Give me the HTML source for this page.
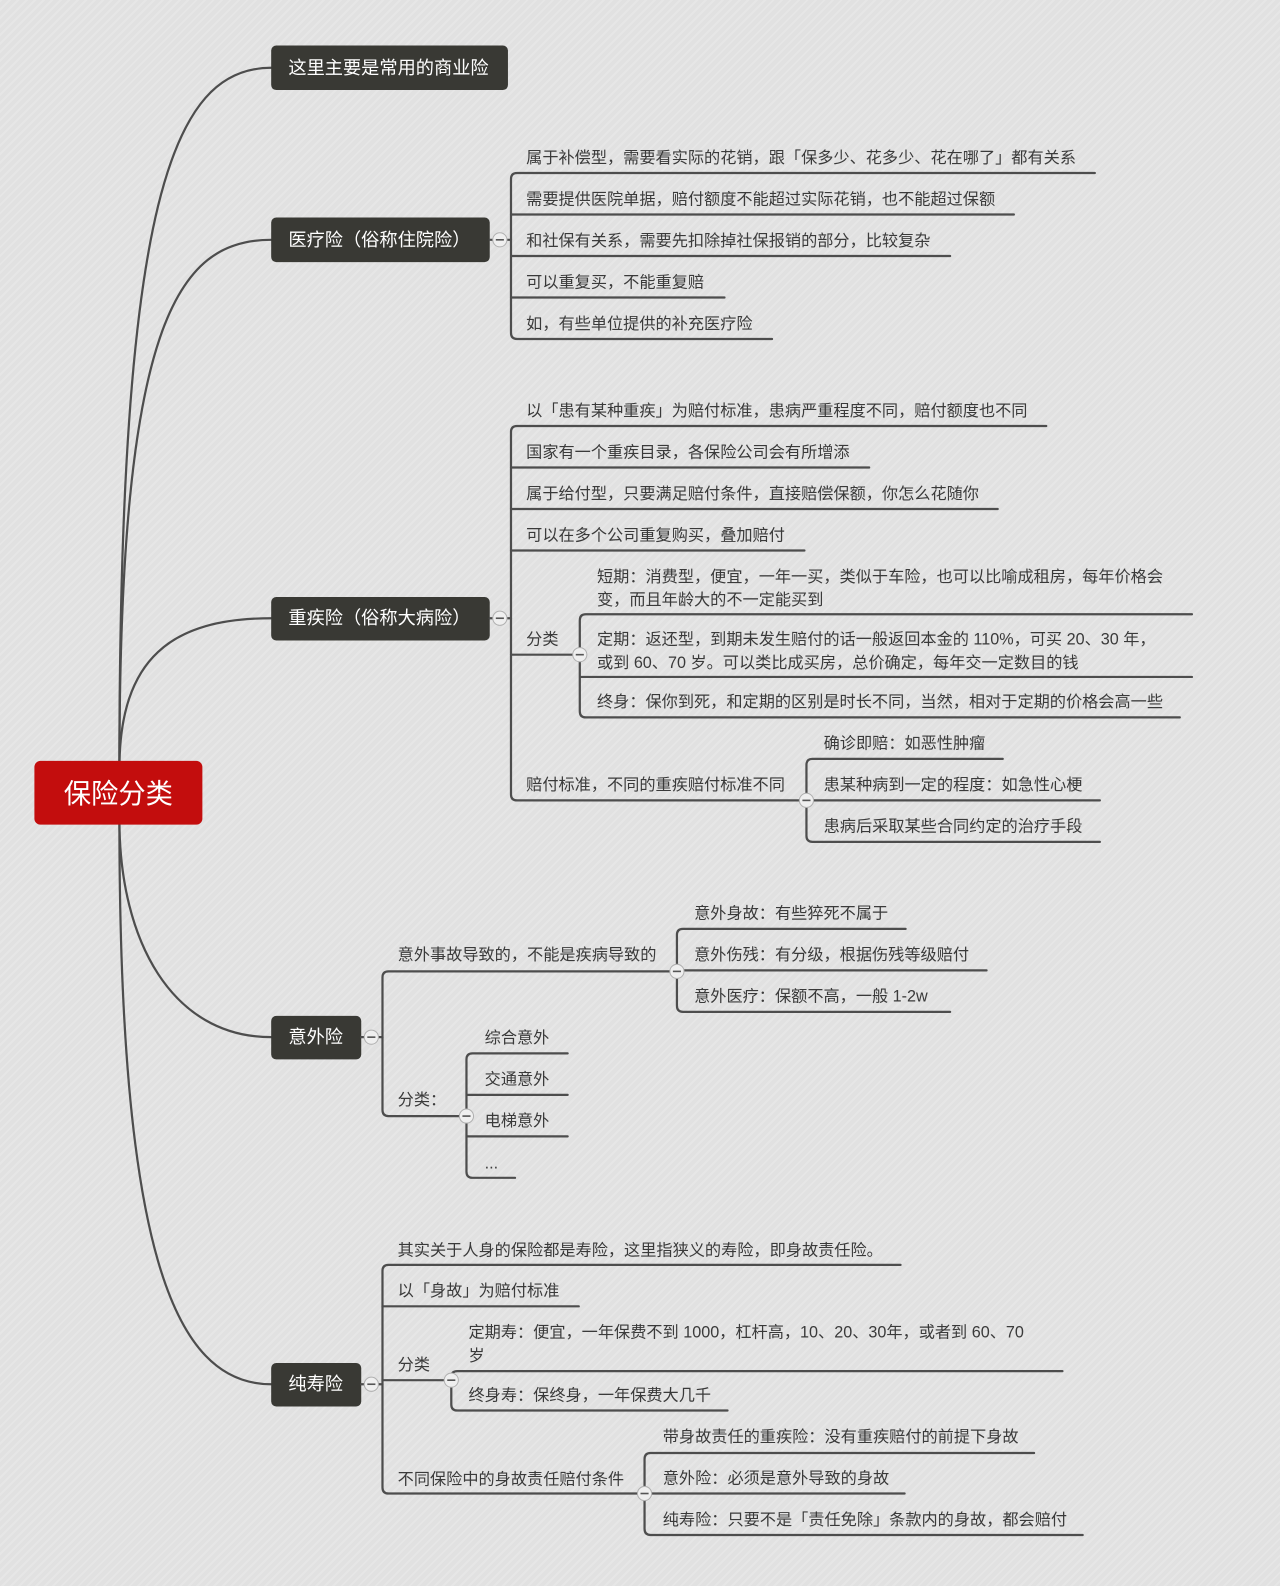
<!DOCTYPE html>
<html><head><meta charset="utf-8"><style>
html,body{margin:0;padding:0}
body{width:1280px;height:1586px;background:#e1e1e1;background-image:repeating-linear-gradient(135deg,rgba(255,255,255,0.18) 0 2px,rgba(0,0,0,0) 2px 6px);overflow:hidden}
svg{position:absolute;left:0;top:0}
text{font-family:"Liberation Sans","Noto Sans CJK SC",sans-serif;dominant-baseline:central}
.t{font-size:16px;fill:#3a3a3a}
.m{font-size:18px;fill:#fff}
.l{stroke:#4d4d4d;stroke-width:2.2;fill:none;stroke-linecap:round}
.c{fill:#efefef;stroke:#b0b0b0;stroke-width:1}
.d{stroke:#555;stroke-width:1.6}
</style></head><body>
<svg width="1280" height="1586" viewBox="0 0 1265 1567.4" preserveAspectRatio="none">
<g class="l">
<path d="M118,760 C118,200 170,67 268,67"/>
<path d="M118,760 C118,320 175,237 268,237"/>
<path d="M118,760 C118,650 170,611 268,611"/>
<path d="M118,810 C118,930 170,1025 268,1025"/>
<path d="M118,810 C118,1230 170,1368 268,1368"/>
</g>
<rect x="34" y="752" width="166" height="63" rx="6" fill="#c30d0d"/>
<text x="117" y="784" text-anchor="middle" style="font-size:27px;fill:#fff">保险分类</text>

<g fill="#393934">
<rect x="268" y="45" width="234" height="44" rx="5"/>
<rect x="268" y="215" width="216" height="44" rx="5"/>
<rect x="268" y="590" width="216" height="43" rx="5"/>
<rect x="268" y="1004" width="89" height="43" rx="5"/>
<rect x="268" y="1347" width="89" height="43" rx="5"/>
</g>
<text class="m" x="285" y="67">这里主要是常用的商业险</text>
<text class="m" x="285" y="237">医疗险（俗称住院险）</text>
<text class="m" x="285" y="611">重疾险（俗称大病险）</text>
<text class="m" x="285" y="1025">意外险</text>
<text class="m" x="285" y="1368">纯寿险</text>

<g class="l">
<path d="M484,237 H505"/>
<path d="M1082,171 H511 Q505,171 505,177 V329 Q505,335 511,335 H763"/>
<path d="M1002,212 H505 M939,253 H505 M716,294 H505"/>
<path d="M484,611 H505"/>
<path d="M1034,421 H511 Q505,421 505,427 V785 Q505,791 511,791 H797"/>
<path d="M859,462 H505 M986,503 H505 M795,544 H505 M573,647 H505"/>
<path d="M1178,607 H579 Q573,607 573,613 V703 Q573,709 579,709 H1166 M1178,669 H573"/>
<path d="M991,750 H803 Q797,750 797,756 V826 Q797,832 803,832 H1087 M1087,791 H797"/>
<path d="M357,1025 H378"/>
<path d="M669,960 H384 Q378,960 378,966 V1097 Q378,1103 384,1103 H461"/>
<path d="M895,918 H675 Q669,918 669,924 V994 Q669,1000 675,1000 H939 M975,959 H669"/>
<path d="M561,1041 H467 Q461,1041 461,1047 V1158 Q461,1164 467,1164 H509 M561,1082 H461 M561,1123 H461"/>
<path d="M357,1368 H378"/>
<path d="M890,1250 H384 Q378,1250 378,1256 V1470 Q378,1476 384,1476 H637"/>
<path d="M572,1291 H378 M446,1364 H378"/>
<path d="M1050,1355 H452 Q446,1355 446,1361 V1388 Q446,1394 452,1394 H719"/>
<path d="M1022,1436 H643 Q637,1436 637,1442 V1511 Q637,1517 643,1517 H1070 M894,1476 H637"/>
</g>

<g>
<circle class="c" cx="494" cy="237" r="7"/><line class="d" x1="490" y1="237" x2="498" y2="237"/>
<circle class="c" cx="494" cy="611" r="7"/><line class="d" x1="490" y1="611" x2="498" y2="611"/>
<circle class="c" cx="573" cy="647" r="7"/><line class="d" x1="569" y1="647" x2="577" y2="647"/>
<circle class="c" cx="797" cy="791" r="7"/><line class="d" x1="793" y1="791" x2="801" y2="791"/>
<circle class="c" cx="367" cy="1025" r="7"/><line class="d" x1="363" y1="1025" x2="371" y2="1025"/>
<circle class="c" cx="669" cy="960" r="7"/><line class="d" x1="665" y1="960" x2="673" y2="960"/>
<circle class="c" cx="461" cy="1103" r="7"/><line class="d" x1="457" y1="1103" x2="465" y2="1103"/>
<circle class="c" cx="367" cy="1368" r="7"/><line class="d" x1="363" y1="1368" x2="371" y2="1368"/>
<circle class="c" cx="446" cy="1364" r="7"/><line class="d" x1="442" y1="1364" x2="450" y2="1364"/>
<circle class="c" cx="637" cy="1476" r="7"/><line class="d" x1="633" y1="1476" x2="641" y2="1476"/>
</g>

<g class="t">
<text x="520" y="156">属于补偿型，需要看实际的花销，跟「保多少、花多少、花在哪了」都有关系</text>
<text x="520" y="197">需要提供医院单据，赔付额度不能超过实际花销，也不能超过保额</text>
<text x="520" y="238">和社保有关系，需要先扣除掉社保报销的部分，比较复杂</text>
<text x="520" y="279">可以重复买，不能重复赔</text>
<text x="520" y="320">如，有些单位提供的补充医疗险</text>

<text x="520" y="406">以「患有某种重疾」为赔付标准，患病严重程度不同，赔付额度也不同</text>
<text x="520" y="447">国家有一个重疾目录，各保险公司会有所增添</text>
<text x="520" y="488">属于给付型，只要满足赔付条件，直接赔偿保额，你怎么花随你</text>
<text x="520" y="529">可以在多个公司重复购买，叠加赔付</text>
<text x="520" y="632">分类</text>
<text x="520" y="776">赔付标准，不同的重疾赔付标准不同</text>

<text x="590" y="570">短期：消费型，便宜，一年一买，类似于车险，也可以比喻成租房，每年价格会</text>
<text x="590" y="593">变，而且年龄大的不一定能买到</text>
<text x="590" y="632">定期：返还型，到期未发生赔付的话一般返回本金的 110%，可买 20、30 年，</text>
<text x="590" y="655">或到 60、70 岁。可以类比成买房，总价确定，每年交一定数目的钱</text>
<text x="590" y="694">终身：保你到死，和定期的区别是时长不同，当然，相对于定期的价格会高一些</text>

<text x="814" y="735">确诊即赔：如恶性肿瘤</text>
<text x="814" y="776">患某种病到一定的程度：如急性心梗</text>
<text x="814" y="817">患病后采取某些合同约定的治疗手段</text>

<text x="393" y="944">意外事故导致的，不能是疾病导致的</text>
<text x="393" y="1087">分类：</text>
<text x="686" y="903">意外身故：有些猝死不属于</text>
<text x="686" y="944">意外伤残：有分级，根据伤残等级赔付</text>
<text x="686" y="985">意外医疗：保额不高，一般 1-2w</text>
<text x="479" y="1026">综合意外</text>
<text x="479" y="1067">交通意外</text>
<text x="479" y="1108">电梯意外</text>
<text x="479" y="1150">...</text>

<text x="393" y="1236">其实关于人身的保险都是寿险，这里指狭义的寿险，即身故责任险。</text>
<text x="393" y="1276">以「身故」为赔付标准</text>
<text x="393" y="1349">分类</text>
<text x="393" y="1462">不同保险中的身故责任赔付条件</text>
<text x="463" y="1317">定期寿：便宜，一年保费不到 1000，杠杆高，10、20、30年，或者到 60、70</text>
<text x="463" y="1340">岁</text>
<text x="463" y="1379">终身寿：保终身，一年保费大几千</text>
<text x="655" y="1420">带身故责任的重疾险：没有重疾赔付的前提下身故</text>
<text x="655" y="1461">意外险：必须是意外导致的身故</text>
<text x="655" y="1502">纯寿险：只要不是「责任免除」条款内的身故，都会赔付</text>
</g>
</svg>
</body></html>
